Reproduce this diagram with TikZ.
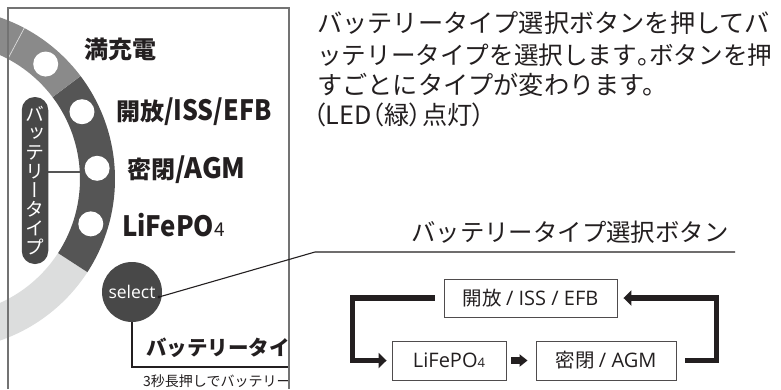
\documentclass[tikz,border=0pt]{standalone}
\usepackage{fontspec}
\usetikzlibrary{arrows.meta,calc}
\newfontfamily\jp{Noto Sans CJK JP}
\newfontfamily\jpv{Noto Sans CJK JP}[RawFeature=+vert]
\newfontfamily\jpp{Noto Sans CJK JP}[RawFeature=+palt]
\newfontfamily\os{Open Sans}
\definecolor{ink}{HTML}{231F20}
\definecolor{ringmid}{HTML}{8A8A8A}
\definecolor{ringdark}{HTML}{555555}
\definecolor{ringlight}{HTML}{DCDDDD}
\definecolor{pillc}{HTML}{484848}
\definecolor{framec}{HTML}{737373}
\newcommand\lblfont{\jp\bfseries\fontsize{24}{24}\selectfont}
\newcommand\latb[2]{\scalebox{#1}[1]{\fontsize{28}{28}\selectfont #2}}
\newcommand\ringseg[3]{\fill[#3] ($(C)+(#1:171)$) arc[start angle=#1,end angle=#2,radius=171] -- ($(C)+(#2:136)$) arc[start angle=#2,end angle=#1,radius=136] -- cycle;}
\begin{document}
\begin{tikzpicture}[x=1pt,y=1pt,
  lbl/.style={anchor=base west,inner sep=0pt,text=ink,font=\lblfont},
  para/.style={anchor=base west,inner sep=0pt,text=ink},
  hole/.style={circle,fill=white,minimum size=25pt,inner sep=0pt},
  flowbox/.style={draw=ink!80,line width=0.9pt,inner sep=0pt,text=ink,font=\jp\fontsize{19.5}{19}\selectfont},
  flow/.style={draw=ink,line width=5.5pt,-{Triangle[length=8pt,width=15pt]}},
  thinline/.style={draw=ink,line width=1.1pt},
  framel/.style={draw=framec,line width=1.4pt}]
\useasboundingbox (0,0) rectangle (781,-389);
\fill[white] (0,0) rectangle (781,-389);

% ---------- left panel ----------
\coordinate (C) at (-56,-179);
\node[hole,fill=none] (h1) at ($(C)+(48.5:153.5)$) {};
\node[hole,fill=none] (h2) at ($(C)+(26:153.5)$) {};
\node[hole,fill=none] (h3) at ($(C)+(4:153.5)$) {};
\node[hole,fill=none] (h4) at ($(C)+(-17:153.5)$) {};
\coordinate (pl) at (47,-172);
\draw[draw=ringdark,line width=1.2pt] (pl) -- (pl -| h3.center);
\begin{scope}
\clip (0,0) rectangle (289,-389);
\ringseg{-80}{-33}{ringlight}
\ringseg{-33}{37}{ringdark}
\ringseg{37}{100}{ringmid}
\draw[white!70!ringmid,line width=0.7pt] ($(C)+(62:136)$) -- ($(C)+(62:171)$);
\end{scope}
\node[hole] at (h1) {};
\node[hole] at (h2) {};
\node[hole] at (h3) {};
\node[hole] at (h4) {};

\node[fill=pillc,rounded corners=13pt,minimum width=26.5pt,minimum height=167pt,inner sep=0pt,
  text=white,align=center,font=\jpv\fontsize{19}{19}\selectfont] (pill) at (35,-180.5)
  {バ\\ッ\\テ\\リ\\ー\\タ\\イ\\プ};

\node[lbl] (l1) at (84,-58.5) {満充電};
\node[lbl] (l2) at (116,-120) {開放\latb{0.89}{/ISS/EFB}};
\node[lbl] (l3) at (127,-178) {密閉\latb{0.97}{/AGM}};
\node[lbl] (l4) at (122,-236.5) {\latb{0.92}{LiFePO}{\mdseries\fontsize{19}{19}\selectfont 4}};

\node[circle,fill=pillc,minimum size=60pt,inner sep=0pt,text=white,
  font=\os\fontsize{17.5}{17}\selectfont] (sel) at (132,-292) {select};

\begin{scope}
\clip (0,0) rectangle (289,-389);
\draw[thinline] (sel.south) -- (sel.south |- 0,-367) coordinate (bk) -- (bk -| 300,0);
\node[lbl,font=\jp\bfseries\fontsize{20.5}{22}\selectfont] (bt) at (146,-355) {バッテリータイプ選択};
\node[lbl,font=\jp\fontsize{14}{14}\selectfont] (bs) at (143,-386) {3秒長押しでバッテリータイプ};
\end{scope}

\draw[framel] (8,-389) -- (8,-8) -- (289,-8) -- (289,-389);

% leader
\coordinate (ld) at (159,-297);
\coordinate (lk) at (315,-252);
\coordinate (le) at (735,-252);
\draw[thinline] (ld) -- (lk) -- (le);
\fill[ink] (ld) circle (1.6);

% ---------- right text ----------
\node[para,font=\jp\fontsize{25.2}{25}\selectfont] (t1) at (317,-32) {バッテリータイプ選択ボタンを押してバ};
\node[para,font=\jp\fontsize{24.6}{25}\selectfont] (t2) at (317,-64.5) {ッテリータイプを選択します{\jpp。}ボタンを押};
\node[para,font=\jp\fontsize{25.2}{25}\selectfont] (t3) at (317,-94) {すごとにタイプが変わります。};
\node[para,font=\jpp\fontsize{25.2}{25}\selectfont] (t4) at (313,-124) {（LED（緑）点灯）};

\node[para,font=\jp\fontsize{24.4}{25}\selectfont] (bl) at (411,-241) {バッテリータイプ選択ボタン};

% ---------- flow ----------
\node[flowbox,minimum width=173pt,minimum height=38pt] (top) at (530.5,-298) {開放 {\os\fontsize{20}{19}\selectfont / ISS / EFB}};
\node[flowbox,minimum width=114pt,minimum height=39pt] (life) at (449,-360.5) {\os\fontsize{20}{19}\selectfont LiFePO{\fontsize{13}{13}\selectfont 4}};
\node[flowbox,minimum width=140pt,minimum height=39pt] (agm) at (606,-360.5) {密閉 {\os\fontsize{20}{19}\selectfont / AGM}};

\draw[flow] ([xshift=-9pt]top.west) -| ([xshift=-39pt]life.west) -- ([xshift=-5pt]life.west);
\draw[flow] ([xshift=9pt]agm.east) -| ([xshift=99pt]top.east) -- ([xshift=6pt]top.east);
\draw[draw=ink,line width=7pt,-{Triangle[length=8pt,width=12pt]}] ([xshift=5pt]life.east) -- ([xshift=-8pt]agm.west);
\end{tikzpicture}
\end{document}
